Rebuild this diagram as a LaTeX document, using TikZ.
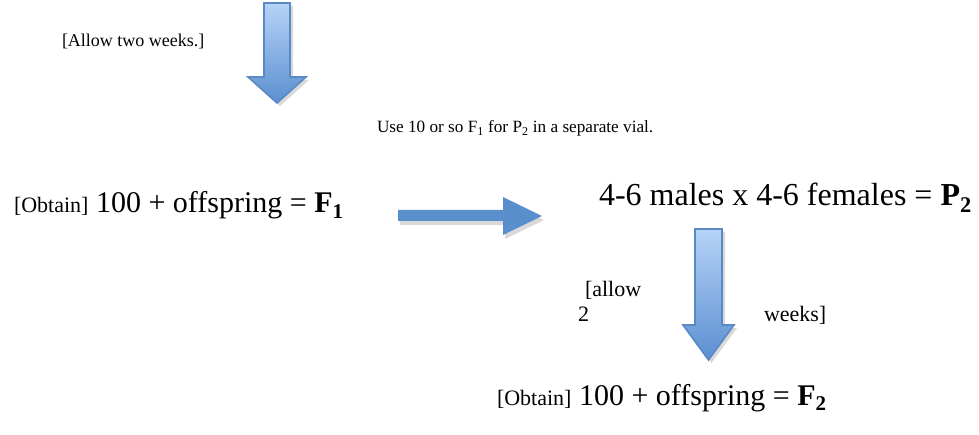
\documentclass[tikz,border=0pt]{standalone}
\usepackage{fontspec}
\setmainfont{Liberation Serif}
\usetikzlibrary{shadows}
\definecolor{arrowlight}{HTML}{B6D3F8}
\definecolor{arrowdark}{HTML}{5B8FD0}
\definecolor{arrowedge}{HTML}{5A89C4}
\definecolor{arrowflat}{HTML}{5A8FCE}
\newcommand{\obtainsize}{\fontsize{22}{25}\selectfont}
\tikzset{
  downarrow/.style={draw=arrowedge, line width=1.6pt, line join=miter,
    top color=arrowlight, bottom color=arrowdark,
    drop shadow={opacity=0.3, shadow xshift=3pt, shadow yshift=-3pt, fill=gray}},
  rightarrow/.style={fill=arrowflat, draw=none,
    drop shadow={opacity=0.3, shadow xshift=2pt, shadow yshift=-4pt, fill=gray}},
  txt/.style={anchor=base west, inner sep=0pt, outer sep=0pt},
  big/.style={font=\fontsize{30}{34}\selectfont},
  bigger/.style={font=\fontsize{32}{36}\selectfont},
  mid/.style={font=\fontsize{18}{21}\selectfont},
  note/.style={font=\fontsize{17.2}{20}\selectfont},
  label/.style={font=\fontsize{22}{25}\selectfont},
}
\begin{document}
\begin{tikzpicture}[x=1pt,y=-1pt]
\useasboundingbox (0,0) rectangle (979,435);
% block arrows
\path[downarrow] (264,3) -- (290,3) -- (290,77) -- (306,77) -- (277,103) -- (248,77) -- (264,77) -- cycle;
\path[rightarrow] (398,210) -- (503,210) -- (503,197) -- (542,216) -- (503,235) -- (503,221) -- (398,221) -- cycle;
\path[downarrow] (695,229) -- (722,229) -- (722,325) -- (734,325) -- (708.5,360) -- (683,325) -- (695,325) -- cycle;
% texts
\node[txt, mid] (allow) at (62,47) {[Allow two weeks.]};
\node[txt, note] (use) at (377,133) {Use 10 or so F\textsubscript{1} for P\textsubscript{2} in a separate vial.};
\node[txt, big] (f1) at (14,213) {{\obtainsize [Obtain]} 100 + offspring = \textbf{F\textsubscript{1}}};
\node[txt, bigger] (p2) at (599,206) {4-6 males x 4-6 females = \textbf{P\textsubscript{2}}};
\node[txt, label] (allowb) at (585,297) {[allow};
\node[txt, label] (two) at (578,321) {2};
\node[txt, label] (weeks) at (764,321) {weeks]};
\node[txt, big] (f2) at (497,405) {{\obtainsize [Obtain]} 100 + offspring = \textbf{F\textsubscript{2}}};
\end{tikzpicture}
\end{document}
